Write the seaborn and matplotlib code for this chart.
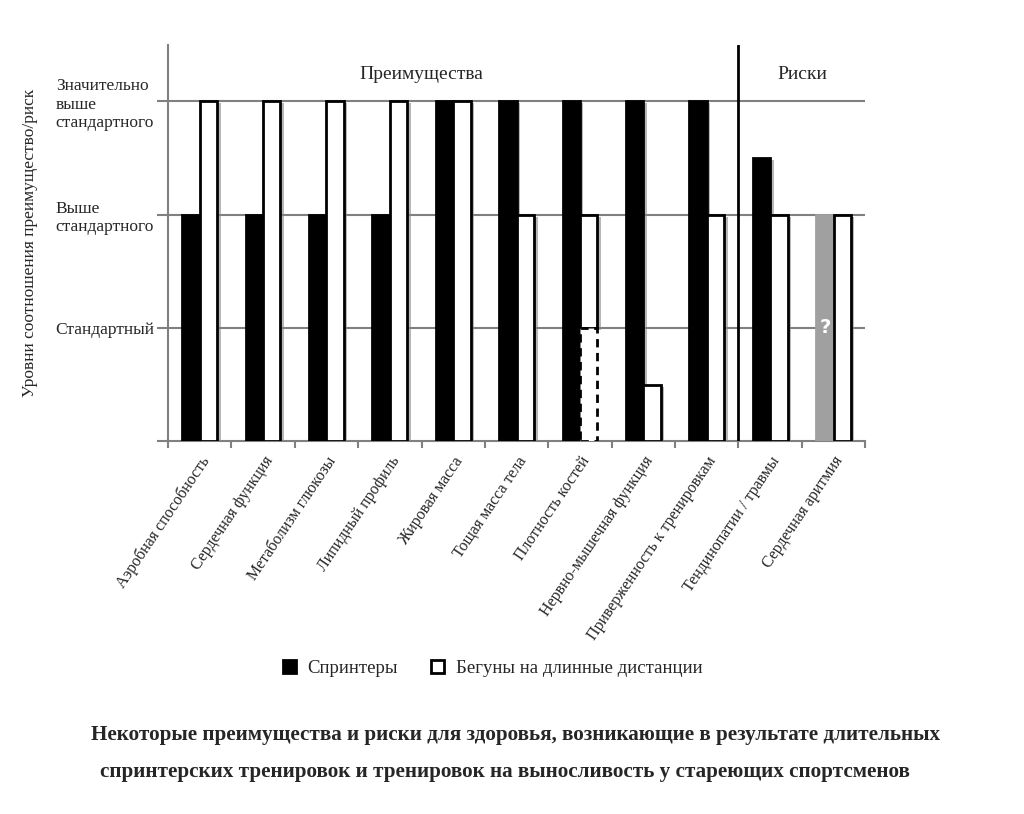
import numpy as np
import pandas as pd
import matplotlib
matplotlib.use("Agg")
import matplotlib.pyplot as plt
import matplotlib.patheffects as pe
from matplotlib.patches import Patch, Rectangle
import seaborn as sns

# ── Data ───────────────────────────────────────────
categories = ["Аэробная способность", "Сердечная функция", "Метаболизм глюкозы",
              "Липидный профиль", "Жировая масса", "Тощая масса тела",
              "Плотность костей", "Нервно-мышечная функция",
              "Приверженность к тренировкам", "Тендинопатии / травмы",
              "Сердечная аритмия"]
sprinters = [2, 2, 2, 2, 3, 3, 3, 3, 3, 2.5, 2]
runners   = [3, 3, 3, 3, 3, 2, 2, 0.5, 2, 2, 2]
# lower uncertain (dashed) part of the runners' bar
runners_dashed = [0, 0, 0, 0, 0, 0, 1, 0, 0, 0, 0]
# sprinter bars whose level is unknown
sprinters_unknown = [False] * 10 + [True]

level_ticks  = [0, 1, 2, 3]
level_labels = ["", "Стандартный", "Выше\nстандартного",
                "Значительно\nвыше\nстандартного"]
groups = ["Спринтеры", "Бегуны на длинные дистанции"]

df = pd.DataFrame({
    "category": categories * 2,
    "group": [groups[0]] * len(categories) + [groups[1]] * len(categories),
    "value": sprinters + runners,
})

sns.set_style("white")
plt.rcParams["font.family"] = ["Liberation Serif", "DejaVu Serif"]

fig = plt.figure(figsize=(10.24, 8.14), dpi=100)
ax = fig.add_axes([0.164, 0.458, 0.681, 0.487])

sns.barplot(data=df, x="category", y="value", hue="group",
            palette={groups[0]: "black", groups[1]: "white"},
            edgecolor="black", linewidth=2, width=0.55, gap=0,
            legend=False, ax=ax, zorder=3)

shadow = [pe.SimplePatchShadow(offset=(2.5, -1.5), shadow_rgbFace="#888888", alpha=0.6),
          pe.Normal()]

for bar in ax.containers[0]:
    bar.set_path_effects(shadow)
for bar in ax.containers[1]:
    bar.set_path_effects(shadow)

# unknown sprinter level -> gray bar with "?"
for bar, unknown in zip(ax.containers[0], sprinters_unknown):
    if unknown:
        bar.set_facecolor("#a0a0a0")
        bar.set_edgecolor("#a0a0a0")
        ax.text(bar.get_x() + bar.get_width() / 2, 1, "?", color="white",
                ha="center", va="center", fontsize=14, fontweight="bold",
                family=["DejaVu Sans"], zorder=5)

# dashed lower part for runners
for bar, low in zip(ax.containers[1], runners_dashed):
    if low > 0:
        top = bar.get_y() + bar.get_height()
        bar.set_y(low)
        bar.set_height(top - low)
        ax.add_patch(Rectangle((bar.get_x(), 0), bar.get_width(), low,
                               facecolor="white", edgecolor="black",
                               linewidth=2, linestyle=(0, (3, 2)), zorder=3))

ax.set_xlim(-0.5, len(categories) - 0.5)
ax.set_ylim(0, 3.5)

ax.set_yticks(level_ticks)
ax.set_yticklabels(level_labels, fontsize=12.5, multialignment="left",
                   linespacing=1.2)
for y in level_ticks[1:]:
    ax.axhline(y, color="#808080", linewidth=1.5, zorder=1)

ax.set_xticks(np.arange(len(categories)))
ax.set_xticklabels(categories, rotation=56, ha="right",
                   rotation_mode="anchor", fontsize=11.5)
ax.set_xticks(np.arange(len(categories) + 1) - 0.5, minor=True)
ax.tick_params(axis="x", which="major", length=0, pad=9)
ax.tick_params(axis="x", which="minor", length=5, width=1.5, color="#808080",
               direction="out", bottom=True)
ax.tick_params(axis="y", length=8, width=1.5, color="#808080", pad=2, left=True)

for side in ["top", "right"]:
    ax.spines[side].set_visible(False)
for side in ["left", "bottom"]:
    ax.spines[side].set_color("#808080")
    ax.spines[side].set_linewidth(1.5)

ax.set_xlabel("")
ax.set_ylabel("Уровни соотношения преимущество/риск", fontsize=12.5, labelpad=12)

# divider between benefits and risks
ax.axvline(8.5, color="black", linewidth=2, zorder=4)
ax.text(3.5, 3.24, "Преимущества", ha="center", va="center", fontsize=14)
ax.text(9.5, 3.24, "Риски", ha="center", va="center", fontsize=14)

handles = [Patch(facecolor="black", edgecolor="black", linewidth=2),
           Patch(facecolor="white", edgecolor="black", linewidth=2)]
fig.legend(handles, groups, loc="center", bbox_to_anchor=(0.481, 0.179),
           ncol=2, frameon=False, fontsize=13.5, handlelength=0.7,
           handleheight=0.7, handletextpad=0.6, columnspacing=1.8)

fig.text(0.503, 0.097,
         "Некоторые преимущества и риски для здоровья, возникающие в результате длительных",
         ha="center", va="center", fontsize=15.2, fontweight="bold")
fig.text(0.493, 0.052,
         "спринтерских тренировок и тренировок на выносливость у стареющих спортсменов",
         ha="center", va="center", fontsize=15.2, fontweight="bold")

plt.savefig("out.png", dpi=100)
